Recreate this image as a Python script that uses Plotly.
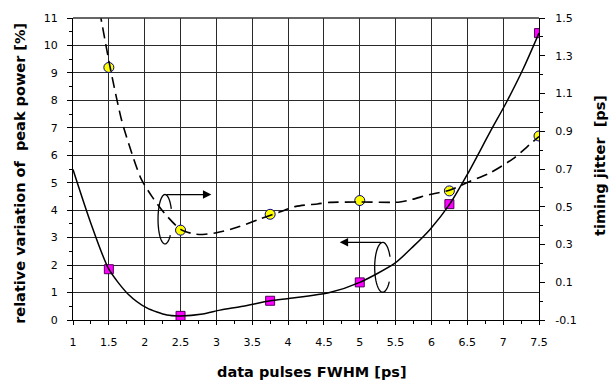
import numpy as np
import plotly.graph_objects as go

# ---- data ----
fwhm_pts = [1.5, 2.5, 3.75, 5.0, 6.25, 7.5]
peak_var_pts = [1.85, 0.15, 0.70, 1.37, 4.22, 10.45]          # left axis [%]
jitter_pts = [1.238, 0.376, 0.46, 0.533, 0.584, 0.875]        # right axis [ps]

peak_fit_x = [1.0, 1.24, 1.5, 1.77, 2.03, 2.31, 2.5, 2.81, 3.05, 3.37, 3.75, 4.03,
              4.58, 5.0, 5.49, 5.75, 5.98, 6.25, 6.5, 6.82, 7.05, 7.28, 7.5]
peak_fit_y = [5.48, 3.59, 1.85, 0.94, 0.44, 0.18, 0.15, 0.22, 0.36, 0.50, 0.70, 0.79,
              1.0, 1.37, 2.07, 2.69, 3.3, 4.2, 5.3, 6.86, 7.95, 9.15, 10.45]

jit_fit_x = [1.37, 1.52, 1.68, 1.84, 1.95, 2.10, 2.28, 2.5, 2.72, 3.0, 3.29, 3.59, 3.89,
             4.11, 4.41, 4.58, 5.0, 5.56, 5.73, 5.98, 6.25, 6.54, 6.82, 7.14, 7.37, 7.5]
jit_fit_y = [1.54, 1.235, 0.956, 0.761, 0.648, 0.555, 0.464, 0.38, 0.354, 0.362, 0.391, 0.433, 0.473,
             0.502, 0.515, 0.523, 0.525, 0.525, 0.539, 0.565, 0.587, 0.635, 0.68, 0.755, 0.829, 0.872]

y2_ticks = [-0.1, 0.1, 0.3, 0.5, 0.7, 0.9, 1.1, 1.3, 1.5]
y2_ticktext = ["-0.1", "0.1", "0.3", "0.5", "0.7", "0.9", "1.1", "1.3", "1.5"]

TICKFONT = dict(family="DejaVu Sans", size=11, color="black")
TITLEFONT = dict(family="DejaVu Sans", size=14.5, color="black")
GRID = "#2a2a2a"

fig = go.Figure()

# markers first, lines drawn on top
fig.add_trace(go.Scatter(x=fwhm_pts, y=peak_var_pts, mode="markers",
                         marker=dict(symbol="square", size=9, color="#FF00FF",
                                     line=dict(color="#50005a", width=1)),
                         yaxis="y", showlegend=False))
fig.add_trace(go.Scatter(x=peak_fit_x, y=peak_fit_y, mode="lines",
                         line=dict(color="black", width=1.5, shape="spline", smoothing=0.7),
                         yaxis="y", showlegend=False))
fig.add_trace(go.Scatter(x=fwhm_pts, y=jitter_pts, mode="markers",
                         marker=dict(symbol="circle", size=10, color="#FFFF00",
                                     line=dict(color="#000080", width=1)),
                         yaxis="y2", showlegend=False))
fig.add_trace(go.Scatter(x=jit_fit_x, y=jit_fit_y, mode="lines",
                         line=dict(color="black", width=1.6, dash="11px,6px",
                                   shape="spline", smoothing=0.7),
                         yaxis="y2", showlegend=False))


def ellipse_path(cx, cy, a, b, start_deg, end_deg):
    t = np.radians(np.linspace(start_deg, end_deg, 60))
    xs = cx + a * np.cos(t)
    ys = cy + b * np.sin(t)
    return "M " + " L ".join(f"{x:.4f},{y:.4f}" for x, y in zip(xs, ys))


shapes = [
    dict(type="path", xref="x", yref="y",
         path=ellipse_path(2.283, 3.67, 0.097, 0.90, 25, 320),
         line=dict(color="black", width=1.3)),
    dict(type="path", xref="x", yref="y",
         path=ellipse_path(5.32, 1.92, 0.112, 0.907, 25, 325),
         line=dict(color="black", width=1.3)),
    dict(type="line", xref="paper", yref="paper", x0=0, x1=1, y0=1, y1=1,
         line=dict(color="#333", width=1.5)),
]

annotations = [
    dict(x=2.93, y=4.57, ax=2.283, ay=4.57, xref="x", yref="y", axref="x", ayref="y",
         text="", showarrow=True, arrowhead=2, arrowsize=1.3, arrowwidth=1.3, arrowcolor="black"),
    dict(x=4.72, y=2.83, ax=5.32, ay=2.83, xref="x", yref="y", axref="x", ayref="y",
         text="", showarrow=True, arrowhead=2, arrowsize=1.3, arrowwidth=1.3, arrowcolor="black"),
    dict(text="<b>relative variation of\u00a0 peak power [%]</b>", xref="paper", yref="paper",
         x=0, y=0.484, xshift=-53, xanchor="center", yanchor="middle", textangle=-90,
         showarrow=False, font=TITLEFONT),
    dict(text="<b>timing jitter\u00a0 [ps]</b>", xref="paper", yref="paper",
         x=1, y=0.51, xshift=61, xanchor="center", yanchor="middle", textangle=-90,
         showarrow=False, font=TITLEFONT),
    dict(text="<b>data pulses FWHM [ps]</b>", xref="paper", yref="paper",
         x=0.513, y=0, yshift=-52, xanchor="center", yanchor="middle",
         showarrow=False, font=TITLEFONT),
]

fig.update_layout(
    width=613, height=380,
    margin=dict(l=73, r=74, t=16, b=60),
    paper_bgcolor="white", plot_bgcolor="white",
    shapes=shapes, annotations=annotations,
    xaxis=dict(range=[1, 7.5], tickmode="linear", tick0=1, dtick=0.5,
               showgrid=True, gridcolor=GRID, gridwidth=1,
               showline=True, linecolor="black", linewidth=1,
               ticks="outside", ticklen=4, tickcolor="black", ticklabelstandoff=8,
               minor=dict(dtick=0.25, tick0=1, ticks="outside", ticklen=3, tickcolor="black"),
               tickfont=TICKFONT, zeroline=False),
    yaxis=dict(range=[0, 11], tickmode="linear", tick0=0, dtick=1,
               showgrid=True, gridcolor=GRID, gridwidth=1,
               showline=True, linecolor="black", linewidth=1,
               ticks="outside", ticklen=5, tickcolor="black", ticklabelstandoff=7,
               minor=dict(dtick=0.5, tick0=0, ticks="outside", ticklen=3, tickcolor="black"),
               tickfont=TICKFONT, zeroline=False),
    yaxis2=dict(range=[-0.1, 1.5], tickmode="array", tickvals=y2_ticks, ticktext=y2_ticktext,
                overlaying="y", side="right", showgrid=False,
                showline=True, linecolor="black", linewidth=1,
                ticks="outside", ticklen=5, tickcolor="black", ticklabelstandoff=8,
                minor=dict(tickmode="linear", dtick=0.1, tick0=-0.1, ticks="outside",
                           ticklen=3, tickcolor="black"),
                tickfont=TICKFONT, zeroline=False),
)

fig.write_html("out.html", config={"displayModeBar": False},
               post_script="document.body.style.margin='0';")
